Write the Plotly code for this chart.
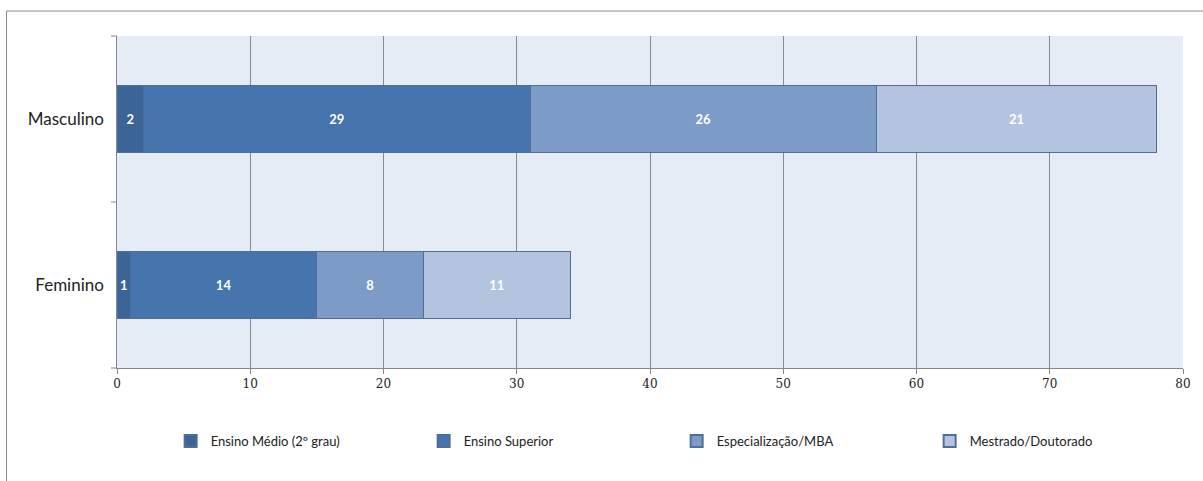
import plotly.graph_objects as go

categories = ["Feminino", "Masculino"]
series_names = ["Ensino Médio (2º grau)", "Ensino Superior", "Especialização/MBA", "Mestrado/Doutorado"]
ensino_medio = [1, 2]
ensino_superior = [14, 29]
especializacao = [8, 26]
mestrado = [11, 21]
x_ticks = [0, 10, 20, 30, 40, 50, 60, 70, 80]

colors = ["#3B6497", "#4674AD", "#7D9BC7", "#B4C3DE"]
values = [ensino_medio, ensino_superior, especializacao, mestrado]

fig = go.Figure()
for name, vals, col in zip(series_names, values, colors):
    fig.add_trace(go.Bar(
        y=categories, x=vals, name=name, orientation="h",
        marker=dict(color=col, line=dict(color="#4F6E9C", width=1)),
        text=vals, textposition="inside", insidetextanchor="middle",
        textfont=dict(color="white", size=13, family="Lato", weight="bold"),
        constraintext="none",
    ))

fig.update_layout(
    barmode="stack",
    bargap=0.6,
    width=1203, height=481,
    margin=dict(l=117, r=15, t=36, b=113),
    paper_bgcolor="white",
    plot_bgcolor="#E6ECF5",
    font=dict(family="Lato", color="#222222"),
    showlegend=True,
    legend=dict(
        orientation="h", x=0.525, xanchor="center", y=-0.22, yanchor="middle",
        font=dict(size=13, family="Lato", color="#222222"),
        entrywidth=208, entrywidthmode="pixels",
        itemsizing="constant", traceorder="normal",
    ),
    xaxis=dict(
        range=[0, 80], tickvals=x_ticks, ticks="outside", ticklen=5,
        tickcolor="#868686", showline=True, linecolor="#868686",
        showgrid=True, gridcolor="#8A8A8A", gridwidth=1, zeroline=False,
        tickfont=dict(family="DejaVu Serif", size=12, color="#222222"),
    ),
    yaxis=dict(
        showline=True, linecolor="#868686", ticks="", showgrid=False,
        tickfont=dict(family="Lato", size=17, color="#222222"),
        ticksuffix="  ",
    ),
    shapes=[
        dict(type="rect", xref="paper", yref="paper",
             x0=-111/1071, x1=1.05, y0=-0.6, y1=1 + 25/332,
             line=dict(color="#8C8C8C", width=1), fillcolor="rgba(0,0,0,0)", layer="below"),
    ] + [
        dict(type="line", xref="paper", yref="paper", x0=0, x1=-6/1071,
             y0=yy, y1=yy, line=dict(color="#868686", width=1))
        for yy in [0, 0.5, 1]
    ],
)

fig.write_html("out.html")
